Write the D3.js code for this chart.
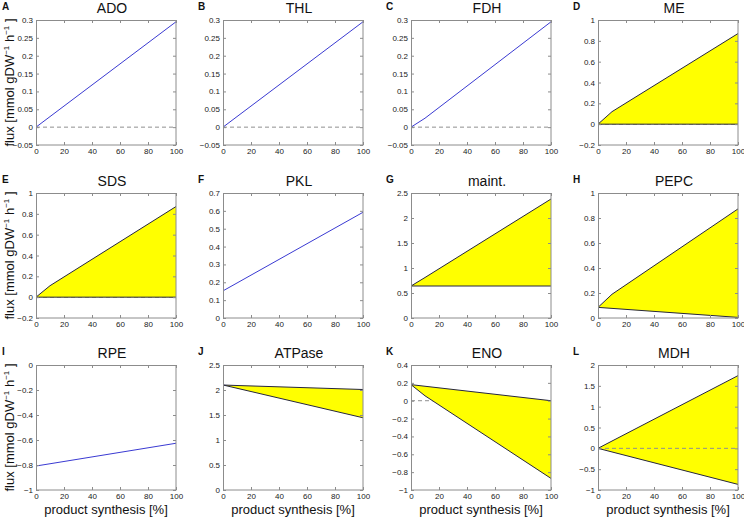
<!DOCTYPE html>
<html><head><meta charset="utf-8">
<script src="https://cdn.jsdelivr.net/npm/d3@7"></script>
<style>
html,body{margin:0;padding:0;background:#fff;}
svg{display:block;font-family:"Liberation Sans",Arial,Helvetica,sans-serif;}
</style></head>
<body>
<svg id="chart" width="744" height="525"></svg>
<script>
// ---- data ----
const synthesis = [0, 10, 100];           // product synthesis [%]
const panelLetters = ["A","B","C","D","E","F","G","H","I","J","K","L"];
const panelNames = ["ADO","THL","FDH","ME","SDS","PKL","maint.","PEPC","RPE","ATPase","ENO","MDH"];
const yDomains = [[-0.05,0.3],[-0.05,0.3],[-0.05,0.3],[-0.2,1],[-0.2,1],[0,0.7],[0,2.5],[0,1],[-1,0],[0,2.5],[-1,0.4],[-1,2]];
const yTickSteps = [0.05,0.05,0.05,0.2,0.2,0.1,0.5,0.2,0.2,0.5,0.2,0.5];
const xTicks = [0,20,40,60,80,100];

// single-valued fluxes (blue line)
const fluxADO = [0, 0.0295, 0.295];
const fluxTHL = [0, 0.0295, 0.295];
const fluxFDH = [0, 0.025, 0.295];
const fluxPKL = [0.152, 0.196, 0.592];
const fluxRPE = [-0.808, -0.790, -0.626];

// flux variability ranges (min / max)
const minME = [0, 0, 0],            maxME = [0, 0.12, 0.87];
const minSDS = [0, 0, 0],           maxSDS = [0, 0.11, 0.87];
const minMaint = [0.64, 0.64, 0.64], maxMaint = [0.64, 0.81, 2.38];
const minPEPC = [0.085, 0.077, 0.005], maxPEPC = [0.085, 0.19, 0.873];
const minATPase = [2.1, 2.035, 1.445], maxATPase = [2.1, 2.09, 2.01];
const minENO = [0.18, 0.055, -0.87], maxENO = [0.18, 0.162, 0.0];
const minMDH = [0, -0.087, -0.865], maxMDH = [0, 0.175, 1.745];

const lineSeries = [fluxADO, fluxTHL, fluxFDH, null, null, fluxPKL, null, null, fluxRPE, null, null, null];
const minSeries = [null, null, null, minME, minSDS, null, minMaint, minPEPC, null, minATPase, minENO, minMDH];
const maxSeries = [null, null, null, maxME, maxSDS, null, maxMaint, maxPEPC, null, maxATPase, maxENO, maxMDH];
const zeroOnTop = [false,false,false,false,false,false,false,false,false,false,false,true];

// ---- layout ----
const colLeft = [36, 223, 411, 598];
const rowTop = [20, 193, 365];
const W = 140, H = 125;
const axisColor = "#8c8c8c";
const blue = "#3a3ad2";
const dark = "#262640";

const svg = d3.select("#chart");
const fmt = d3.format("~g");
const x = d3.scaleLinear().domain([0,100]).range([0,W]);

panelNames.forEach((name, i) => {
  const col = i % 4, row = Math.floor(i / 4);
  const g = svg.append("g").attr("transform", `translate(${colLeft[col]},${rowTop[row]})`);
  const [lo, hi] = yDomains[i];
  const y = d3.scaleLinear().domain([lo, hi]).range([H, 0]);
  const step = yTickSteps[i];
  const yTicks = d3.range(Math.round((hi - lo) / step) + 1).map(k => +(lo + k * step).toFixed(4));

  const clipId = "clip" + i;
  g.append("clipPath").attr("id", clipId).append("rect").attr("width", W).attr("height", H);
  const plot = g.append("g").attr("clip-path", `url(#${clipId})`);

  const drawZero = () => {
    if (lo < 0 && hi > 0) {
      plot.append("line").attr("x1", 0).attr("x2", W).attr("y1", y(0)).attr("y2", y(0))
        .attr("stroke", "#909090").attr("stroke-width", 1).attr("stroke-dasharray", "4,3");
    }
  };
  if (!zeroOnTop[i]) drawZero();

  const pts = (arr) => synthesis.map((s, k) => [s, arr[k]]);
  if (minSeries[i]) {
    const mn = minSeries[i], mx = maxSeries[i];
    const area = d3.area().x((d, k) => x(synthesis[k])).y0((d, k) => y(mn[k])).y1((d, k) => y(mx[k]));
    plot.append("path").datum(synthesis).attr("d", area).attr("fill", "#ffff00").attr("stroke", "none");
    const ln = d3.line().x(d => x(d[0])).y(d => y(d[1]));
    plot.append("path").datum(pts(mn)).attr("d", ln).attr("fill", "none").attr("stroke", dark).attr("stroke-width", 1);
    plot.append("path").datum(pts(mx)).attr("d", ln).attr("fill", "none").attr("stroke", dark).attr("stroke-width", 1);
  }
  if (zeroOnTop[i]) drawZero();
  if (lineSeries[i]) {
    const ln = d3.line().x(d => x(d[0])).y(d => y(d[1]));
    plot.append("path").datum(pts(lineSeries[i])).attr("d", ln).attr("fill", "none").attr("stroke", blue).attr("stroke-width", 1);
  }

  // axes (MATLAB-style box with inward ticks)
  const styleAxis = (sel) => {
    sel.select(".domain").remove();
    sel.selectAll(".tick line").attr("stroke", axisColor);
    sel.selectAll(".tick text").attr("fill", "#222").style("font-size", "8px")
      .style("font-family", '"Liberation Sans",Arial,Helvetica,sans-serif');
  };
  g.append("g").call(d3.axisLeft(y).tickValues(yTicks).tickSize(-3).tickPadding(3).tickFormat(fmt)).call(styleAxis);
  g.append("g").attr("transform", `translate(${W},0)`).call(d3.axisRight(y).tickValues(yTicks).tickSize(-3).tickFormat("")).call(styleAxis);
  g.append("g").attr("transform", `translate(0,${H})`).call(d3.axisBottom(x).tickValues(xTicks).tickSize(-3).tickPadding(3).tickFormat(fmt)).call(styleAxis);
  g.append("g").call(d3.axisTop(x).tickValues(xTicks).tickSize(-3).tickFormat("")).call(styleAxis);
  g.append("rect").attr("x", 0.5).attr("y", 0.5).attr("width", W - 0.5).attr("height", H - 0.5)
    .attr("fill", "none").attr("stroke", axisColor).attr("stroke-width", 1);

  // title
  g.append("text").attr("x", W / 2 + 6).attr("y", -7).attr("text-anchor", "middle")
    .style("font-size", "14px").attr("fill", "#111").text(name);
  // panel letter
  svg.append("text").attr("x", col === 0 ? 2 : colLeft[col] - 25).attr("y", rowTop[row] - 10)
    .style("font-size", "10px").style("font-weight", "bold").attr("fill", "#111").text(panelLetters[i]);

  // y label (first column)
  if (col === 0) {
    const t = svg.append("text").attr("transform", `translate(14,${rowTop[row] + H / 2}) rotate(-90)`)
      .attr("text-anchor", "middle").style("font-size", "13px").attr("fill", "#111");
    t.append("tspan").text("flux [mmol gDW");
    t.append("tspan").attr("dy", -5).style("font-size", "8px").text("−1");
    t.append("tspan").attr("dy", 5).text(" h");
    t.append("tspan").attr("dy", -5).style("font-size", "8px").text("−1");
    t.append("tspan").attr("dy", 5).text("  ]");
  }
  // x label (bottom row)
  if (row === 2) {
    svg.append("text").attr("x", colLeft[col] + W / 2).attr("y", rowTop[row] + H + 24)
      .attr("text-anchor", "middle").style("font-size", "13px").attr("fill", "#111").text("product synthesis [%]");
  }
});
</script>
</body></html>
